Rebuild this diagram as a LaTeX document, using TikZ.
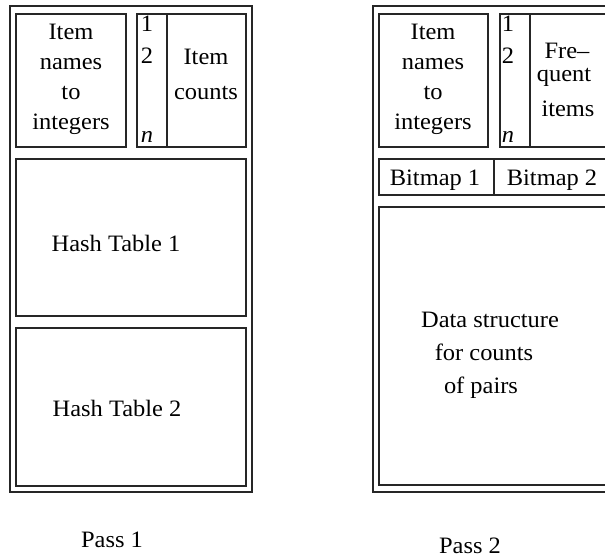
\documentclass[tikz,border=0pt]{standalone}
\usepackage{fontspec}
\setmainfont{Liberation Serif}[FakeStretch=1.04]
\begin{document}
\begin{tikzpicture}[x=1pt,y=-1pt,
  box/.style={draw=black!85,line width=1.1pt},
  txt/.style={anchor=base,inner sep=0pt,font=\fontsize{23.5}{28}\selectfont}]
\useasboundingbox (0,0) rectangle (605,557);
\clip (0,0) rectangle (605,557);
% ---------- Pass 1 ----------
\draw[box] (10,6) rectangle (252,492);
\draw[box] (16,14) rectangle (126,147);
\draw[box] (137,14) rectangle (246,147);
\draw[box] (167,14) -- (167,147);
\draw[box] (16,159) rectangle (246,316);
\draw[box] (16,328) rectangle (246,486);
\node[txt] (l1a) at (71,39) {Item};
\node[txt] (l1b) at (71,69) {names};
\node[txt] (l1c) at (71,99) {to};
\node[txt] (l1d) at (71,129) {integers};
\node[txt] (l1n1) at (147,31) {1};
\node[txt] (l1n2) at (147,63) {2};
\node[txt] (l1nn) at (147,142) {\itshape n};
\node[txt] (l1c1) at (206,64) {Item};
\node[txt] (l1c2) at (206,99) {counts};
\node[txt] (ht1) at (116,251) {Hash Table 1};
\node[txt] (ht2) at (117,416) {Hash Table 2};
\node[txt] (p1) at (112,547) {Pass 1};
% ---------- Pass 2 ----------
\draw[box] (373,6) rectangle (630,492);
\draw[box] (379,14) rectangle (488,147);
\draw[box] (500,14) rectangle (630,147);
\draw[box] (530,14) -- (530,147);
\draw[box] (379,159) rectangle (630,195);
\draw[box] (494,159) -- (494,195);
\draw[box] (379,207) rectangle (630,485);
\node[txt] (r1a) at (433,39) {Item};
\node[txt] (r1b) at (433,69) {names};
\node[txt] (r1c) at (433,99) {to};
\node[txt] (r1d) at (433,129) {integers};
\node[txt] (r1n1) at (508,31) {1};
\node[txt] (r1n2) at (508,63) {2};
\node[txt] (r1nn) at (508,142) {\itshape n};
\node[txt] (fr1) at (567,58) {Fre--};
\node[txt] (fr2) at (564,81) {quent};
\node[txt] (fr3) at (568,116) {items};
\node[txt] (bm1) at (435,185) {Bitmap 1};
\node[txt] (bm2) at (552,185) {Bitmap 2};
\node[txt] (ds1) at (490,327) {Data structure};
\node[txt] (ds2) at (484,360) {for counts};
\node[txt] (ds3) at (481,393) {of pairs};
\node[txt] (p2) at (470,553) {Pass 2};
\end{tikzpicture}
\end{document}
